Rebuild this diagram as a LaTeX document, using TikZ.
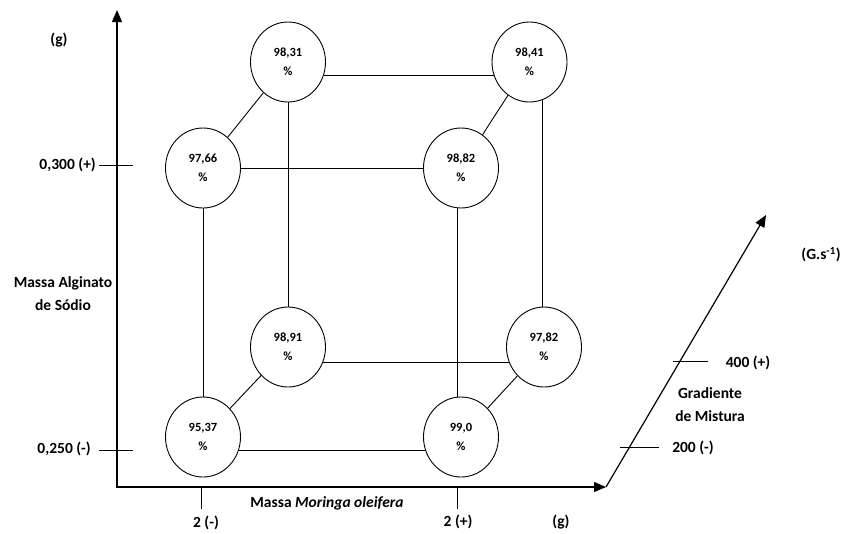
\documentclass[tikz,border=0pt]{standalone}
\usepackage{fontspec}
\setmainfont{Carlito}
\usetikzlibrary{shapes.geometric,arrows.meta}
\begin{document}
\begin{tikzpicture}[x=1pt,y=-1pt,
  val/.style={ellipse,draw,line width=0.9pt,minimum width=75pt,minimum height=80pt,inner sep=0pt,align=center,font=\fontsize{12.5}{19}\selectfont\bfseries},
  edge/.style={line width=0.9pt},
  axisline/.style={line width=1.2pt},
  tip/.style={Triangle[length=12pt,width=10pt]},
  tickline/.style={line width=1pt},
  lbl/.style={font=\fontsize{15.5}{23}\selectfont\bfseries,align=center,inner sep=0pt}]
\useasboundingbox (0,0) rectangle (842,533);

% result nodes
\node[val] (n1) at (288,62) {98,31\\\%};
\node[val] (n2) at (529.5,62) {98,41\\\%};
\node[val] (n3) at (203,168) {97,66\\\%};
\node[val] (n4) at (461,168) {98,82\\\%};
\node[val] (n5) at (288,347) {98,91\\\%};
\node[val] (n6) at (544,347) {97,82\\\%};
\node[val] (n7) at (203,437) {95,37\\\%};
\node[val] (n8) at (461,437) {99,0\\\%};

% cube edges
\draw[edge] (n1.-20) -- (n2.200);
\draw[edge] (n3) -- (n4);
\draw[edge] (n5.-23) -- (n6.203);
\draw[edge] (n7.-20) -- (n8.200);
\draw[edge] (n3) -- (n7);
\draw[edge] (n1) -- (n5);
\draw[edge] (n4.-95) -- (n8.95);
\draw[edge] (n2.-71) -- (n2.-71 |- n6.north);
\draw[edge] (n3) -- (n1);
\draw[edge] (n4) -- (n2);
\draw[edge] (n7) -- (n5);
\draw[edge] (n8) -- (n6);

% axes
\coordinate (O) at (117,487);
\coordinate (ytip) at (117,10);
\coordinate (xtip) at (606,487);
\coordinate (zs) at (606,487);
\coordinate (ztip) at (766,215);
\draw[axisline,{Triangle[length=12pt,width=10pt]}-{Triangle[length=12pt,width=10pt]}] (ytip) -- (O) -- (xtip);
\draw[axisline,-{Triangle[length=12pt,width=10pt]}] (zs) -- (ztip);

% ticks
\coordinate (ya1) at (99,165);  \coordinate (yb1) at (133,165);
\coordinate (ya2) at (99,450);  \coordinate (yb2) at (133,450);
\coordinate (xa1) at (201,487); \coordinate (xb1) at (201,509);
\coordinate (xa2) at (457,487); \coordinate (xb2) at (457,509);
\coordinate (za1) at (673,361); \coordinate (zb1) at (708,361);
\coordinate (za2) at (620,447); \coordinate (zb2) at (659,447);
\draw[tickline] (ya1) -- (yb1);
\draw[tickline] (ya2) -- (yb2);
\draw[tickline] (xa1) -- (xb1);
\draw[tickline] (xa2) -- (xb2);
\draw[tickline] (za1) -- (zb1);
\draw[tickline] (za2) -- (zb2);

% labels
\node[lbl] (gy) at (59,40) {(g)};
\node[lbl,anchor=east] (y300) at (96,165) {0,300 (+)};
\node[lbl,anchor=east] (y250) at (91,449) {0,250 (-)};
\node[lbl] (ylab) at (63,294) {Massa Alginato\\de Sódio};
\node[lbl] (x2m) at (206,523) {2 (-)};
\node[lbl] (x2p) at (458,522) {2 (+)};
\node[lbl] (gx) at (561,522) {(g)};
\node[lbl] (xlab) at (327,503) {Massa \textit{Moringa oleifera}};
\node[lbl] (gz) at (821,255) {(G.s\textsuperscript{-1})};
\node[lbl] (z400) at (748,363) {400 (+)};
\node[lbl] (zlab) at (710,405) {Gradiente\\de Mistura};
\node[lbl] (z200) at (693,448) {200 (-)};
\end{tikzpicture}
\end{document}
